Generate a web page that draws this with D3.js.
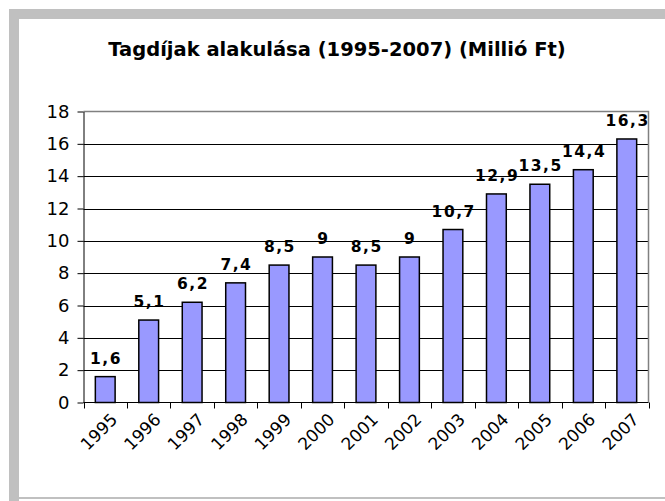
<!DOCTYPE html>
<html>
<head>
<meta charset="utf-8">
<script src="https://cdn.jsdelivr.net/npm/d3@7"></script>
<style>
  body { margin: 0; background: #fff; }
  svg { display: block; }
</style>
</head>
<body>
<svg id="chart" width="665" height="501"></svg>
<script>
// Tagdíjak 1995-2007, millió Ft

const years = ["1995", "1996", "1997", "1998", "1999", "2000", "2001",
               "2002", "2003", "2004", "2005", "2006", "2007"];
const fees = [1.6, 5.1, 6.2, 7.4, 8.5, 9, 8.5, 9, 10.7, 12.9, 13.5, 14.4, 16.3];
const yTicks = [0, 2, 4, 6, 8, 10, 12, 14, 16, 18];
const title = "Tagdíjak alakulása (1995-2007) (Millió Ft)";

const svg = d3.select("#chart");
const W = 665, H = 501;

// grey frame (chart was cropped, only left/top/bottom edges visible)
svg.append("rect").attr("x", 9).attr("y", 9).attr("width", 10).attr("height", H - 9).attr("fill", "#c0c0c0");
svg.append("rect").attr("x", 9).attr("y", 9).attr("width", W - 9).attr("height", 10).attr("fill", "#c0c0c0");
svg.append("rect").attr("x", 9).attr("y", 497).attr("width", W - 9).attr("height", 2).attr("fill", "#c0c0c0");

svg.append("text")
  .attr("x", 337)
  .attr("y", 56)
  .attr("text-anchor", "middle")
  .attr("font-family", "DejaVu Sans, Verdana, sans-serif")
  .attr("font-weight", "bold")
  .attr("font-size", 19.5)
  .text(title);

const pLeft = 83.5, pRight = 648.5, pTop = 111.5, pBottom = 402.5;

const x = d3.scaleBand()
  .domain(years)
  .range([pLeft, pRight])
  .paddingInner(0.545)
  .paddingOuter(0.2725);

const y = d3.scaleLinear().domain([0, 18]).range([pBottom, pTop]);

// gridlines
svg.append("g")
  .selectAll("line")
  .data(yTicks.filter(v => v > 0 && v < 18))
  .join("line")
  .attr("x1", pLeft).attr("x2", pRight)
  .attr("y1", d => Math.round(y(d)) + 0.5)
  .attr("y2", d => Math.round(y(d)) + 0.5)
  .attr("stroke", "#000")
  .attr("stroke-width", 1);

// plot area border (top + right)
svg.append("path")
  .attr("d", `M${pLeft},${pTop}H${pRight}V${pBottom}`)
  .attr("fill", "none")
  .attr("stroke", "#808080")
  .attr("stroke-width", 1.5);

// bars
svg.append("g")
  .selectAll("rect")
  .data(fees)
  .join("rect")
  .attr("x", (d, i) => x(years[i]))
  .attr("y", d => y(d))
  .attr("width", x.bandwidth())
  .attr("height", d => y(0) - y(d))
  .attr("fill", "#9999ff")
  .attr("stroke", "#000")
  .attr("stroke-width", 1.5);

// data labels
svg.append("g")
  .selectAll("text")
  .data(fees)
  .join("text")
  .attr("x", (d, i) => x(years[i]) + x.bandwidth() / 2 + 0.8)
  .attr("y", d => y(d) - 13)
  .attr("text-anchor", "middle")
  .attr("font-family", "DejaVu Sans, Verdana, sans-serif")
  .attr("font-weight", "bold")
  .attr("font-size", 15.5)
  .attr("letter-spacing", 1.5)
  .text(d => String(d).replace(".", ","));

// y axis
const yAxis = svg.append("g")
  .attr("transform", `translate(${pLeft},0)`)
  .call(d3.axisLeft(y).tickValues(yTicks).tickSize(6).tickPadding(8).tickSizeOuter(0));
yAxis.select(".domain").attr("stroke", "#000");
yAxis.selectAll(".tick line").attr("stroke", "#000");
yAxis.selectAll("text")
  .attr("font-family", "DejaVu Sans, Verdana, sans-serif")
  .attr("font-size", 18)
  .attr("fill", "#000");

// x axis: baseline, ticks between categories
svg.append("line")
  .attr("x1", pLeft).attr("x2", pRight)
  .attr("y1", pBottom).attr("y2", pBottom)
  .attr("stroke", "#000");

svg.append("g")
  .selectAll("line")
  .data(d3.range(years.length + 1))
  .join("line")
  .attr("x1", i => Math.round(pLeft + i * x.step()) + 0.5)
  .attr("x2", i => Math.round(pLeft + i * x.step()) + 0.5)
  .attr("y1", pBottom)
  .attr("y2", pBottom + 6)
  .attr("stroke", "#000");

svg.append("g")
  .selectAll("text")
  .data(years)
  .join("text")
  .attr("transform", d => `translate(${x(d) + x.bandwidth() / 2 + 9},${pBottom + 14}) rotate(-45)`)
  .attr("text-anchor", "end")
  .attr("dy", "0.35em")
  .attr("font-family", "DejaVu Sans, Verdana, sans-serif")
  .attr("font-size", 17)
  .text(d => d);
</script>
</body>
</html>
